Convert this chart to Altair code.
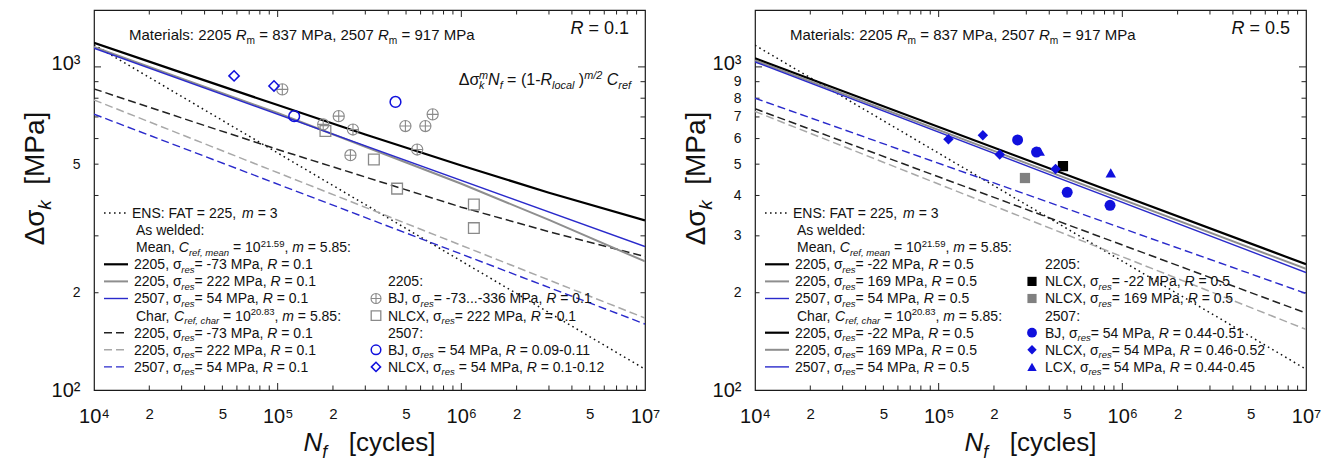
import altair as alt
import pandas as pd

FONT = "Liberation Sans"
W, H = 551, 380
INK = "#111111"
BLUE_LINE = "#2a2acb"
BLUE_MARK = "#1010dd"
GRAY_SOLID = "#8e8e8e"
GRAY_DASH = "#a8a8a8"
GRAY_MARK = "#8a8a8a"

# ---------------- ticks and tick labels ----------------
X_LABEL_VALUES = [1e4, 2e4, 5e4, 1e5, 2e5, 5e5, 1e6, 2e6, 5e6, 1e7]
X_MAJOR_TICKS = [1e5, 1e6]
X_MINOR_TICKS = [2e4, 3e4, 4e4, 5e4, 6e4, 7e4, 8e4, 9e4,
                 2e5, 3e5, 4e5, 5e5, 6e5, 7e5, 8e5, 9e5,
                 2e6, 3e6, 4e6, 5e6, 6e6, 7e6, 8e6, 9e6]
Y_LABELS_LEFT = [100, 200, 500, 1000]
Y_LABELS_RIGHT = [100, 200, 300, 400, 500, 600, 700, 800, 900, 1000]
Y_MAJOR_TICKS = [1000]
Y_MINOR_TICKS = [200, 300, 400, 500, 600, 700, 800, 900]

# ---------------- R = 0.1 panel: curves ----------------
N_ENDS = [1e4, 1e7]
R1_ENS = [1170, 116]
R1_MEAN_2205A_N = [1e4, 3e4, 1e5, 3e5, 1e6, 3e6, 1e7]
R1_MEAN_2205A_S = [1187, 960, 762, 618, 495, 408, 335]
R1_MEAN_2205B_N = [1e4, 1e5, 1e6, 3e6, 1e7]
R1_MEAN_2205B_S = [1153, 720, 435, 336, 250]
R1_MEAN_2507 = [1142, 278]
R1_CHAR_2205A_N = [1e4, 3e4, 1e5, 1e6, 3e6, 1e7]
R1_CHAR_2205A_S = [855, 695, 555, 368, 309, 259]
R1_CHAR_2205B = [790, 167]
R1_CHAR_2507 = [714, 160]

# ---------------- R = 0.1 panel: test data ----------------
R1_BJ2205_N = [1.06e5, 2.15e5, 1.77e5, 2.57e5, 2.49e5, 4.96e5, 6.37e5, 6.98e5, 5.75e5]
R1_BJ2205_S = [852, 704, 664, 640, 533, 656, 656, 713, 555]
R1_NLCX2205_N = [1.82e5, 3.34e5, 4.47e5, 1.17e6, 1.17e6]
R1_NLCX2205_S = [633, 517, 420, 375, 317]
R1_BJ2507_N = [1.23e5, 4.38e5]
R1_BJ2507_S = [704, 779]
R1_NLCX2507_N = [5.79e4, 9.55e4]
R1_NLCX2507_S = [938, 873]

# ---------------- R = 0.5 panel: curves ----------------
R5_ENS = [1167, 116]
R5_MEAN_2205A = [1064, 245]
R5_MEAN_2205B = [1047, 237]
R5_MEAN_2507 = [1036, 231]
R5_CHAR_2205A = [742, 173]
R5_CHAR_2205B = [728, 154]
R5_CHAR_2507 = [800, 199]

# ---------------- R = 0.5 panel: test data ----------------
R5_NLCX2205A_N = [4.75e5]
R5_NLCX2205A_S = [493]
R5_NLCX2205B_N = [2.95e5]
R5_NLCX2205B_S = [453]
R5_BJ2507_N = [2.69e5, 3.41e5, 5.01e5, 8.57e5]
R5_BJ2507_S = [594, 545, 409, 373]
R5_NLCX2507_N = [1.13e5, 1.74e5, 2.15e5, 4.33e5]
R5_NLCX2507_S = [597, 614, 536, 483]
R5_LCX2507_N = [3.55e5, 8.65e5]
R5_LCX2507_S = [548, 470]

# ---------------- styles ----------------
DASH = [8, 4]
LINE_STYLES = {
    "ens": dict(color=INK, strokeDash=[1.6, 3.4], strokeWidth=1.5),
    "mean_a": dict(color="#000000", strokeWidth=2.2),
    "mean_b": dict(color=GRAY_SOLID, strokeWidth=2.0),
    "mean_c": dict(color=BLUE_LINE, strokeWidth=1.4),
    "char_a": dict(color="#222222", strokeDash=DASH, strokeWidth=1.5),
    "char_b": dict(color=GRAY_DASH, strokeDash=DASH, strokeWidth=1.5),
    "char_c": dict(color=BLUE_LINE, strokeDash=DASH, strokeWidth=1.4),
}
CROSS_CIRCLE = "M -1 0 A 1 1 0 1 0 1 0 A 1 1 0 1 0 -1 0 Z M -1 0 L 1 0 M 0 -1 L 0 1"
MARKERS = {
    "bj2205": dict(shape=CROSS_CIRCLE, filled=False, color=GRAY_MARK, size=125, strokeWidth=1.1),
    "nlcx2205": dict(shape="square", filled=False, color=GRAY_MARK, size=115, strokeWidth=1.3),
    "bj2507": dict(shape="circle", filled=False, color=BLUE_MARK, size=115, strokeWidth=1.5),
    "nlcx2507": dict(shape="diamond", filled=False, color=BLUE_MARK, size=105, strokeWidth=1.5),
    "nlcx2205a_f": dict(shape="square", filled=True, color="#000000", size=105),
    "nlcx2205b_f": dict(shape="square", filled=True, color="#808080", size=105),
    "bj2507_f": dict(shape="circle", filled=True, color=BLUE_MARK, size=120),
    "nlcx2507_f": dict(shape="diamond", filled=True, color=BLUE_MARK, size=110),
    "lcx2507_f": dict(shape="triangle-up", filled=True, color=BLUE_MARK, size=110),
}

# ---------------- rich text helper (Arial / Liberation Sans advance widths) ----------------
AW = {' ': 278, '!': 278, '(': 333, ')': 333, ',': 278, '-': 333, '.': 278, '/': 278,
      ':': 278, '=': 584, '[': 278, ']': 278,
      'A': 667, 'B': 667, 'C': 722, 'D': 722, 'E': 667, 'F': 611, 'G': 778, 'H': 722,
      'I': 278, 'J': 500, 'K': 667, 'L': 556, 'M': 833, 'N': 722, 'O': 778, 'P': 667,
      'R': 722, 'S': 667, 'T': 611, 'U': 722, 'V': 667, 'W': 944, 'X': 667,
      'a': 556, 'b': 556, 'c': 500, 'd': 556, 'e': 556, 'f': 278, 'g': 556, 'h': 556,
      'i': 222, 'k': 500, 'l': 222, 'm': 833, 'n': 556, 'o': 556, 'p': 556, 'r': 333,
      's': 500, 't': 278, 'u': 556, 'w': 722, 'x': 500, 'y': 500,
      'σ': 600, 'Δ': 668}
for _d in "0123456789":
    AW[_d] = 556


def text_width(s, size):
    return sum(AW.get(ch, 556) for ch in s) * size / 1000.0


def parse_markup(m):
    segs = []
    st = {"it": False, "kind": "n", "buf": ""}

    def flush():
        if st["buf"]:
            segs.append((st["buf"], st["it"], st["kind"]))
            st["buf"] = ""

    i = 0
    while i < len(m):
        c = m[i]
        if c == "*":
            flush(); st["it"] = not st["it"]; i += 1
        elif c in "_^" and m[i + 1:i + 2] == "{":
            flush(); st["kind"] = "sub" if c == "_" else "sup"; i += 2
        elif c == "^" and m[i + 1:i + 3] == "<{":
            flush(); st["kind"] = "supb"; i += 3
        elif c == "}" and st["kind"] != "n":
            flush(); st["kind"] = "n"; i += 1
        else:
            st["buf"] += c; i += 1
    flush()
    return segs


def rich(markup, x, y, size, anchor="left", vertical=False):
    pieces = []
    cur = 0.0
    prev_start = 0.0
    for text, it, kind in parse_markup(markup):
        fs = size * 0.68 if kind != "n" else size
        start = prev_start if kind == "supb" else cur
        lead = len(text) - len(text.lstrip(" "))
        body = text.strip(" ")
        cur = max(cur, start + text_width(text, fs))
        if kind == "sub":
            off = 0.25 * size
        elif kind in ("sup", "supb"):
            off = -0.40 * size
        else:
            off = 0.0
        if body:
            pieces.append((body, it, fs, start + text_width(" " * lead, fs), off))
        prev_start = start
    total = cur
    shift = {"left": 0.0, "center": -total / 2.0, "right": -total}[anchor]
    rows = []
    for body, it, fs, start, off in pieces:
        if vertical:
            rows.append(dict(px=x + off, py=y - (start + shift), text=body, fs=fs, it=bool(it), vert=True))
        else:
            rows.append(dict(px=x + start + shift, py=y + off, text=body, fs=fs, it=bool(it), vert=False))
    return rows


# ---------------- scales / axes ----------------
XS = alt.Scale(type="log", domain=[1e4, 1e7], nice=False)
YS = alt.Scale(type="log", domain=[100, 1500], nice=False)
X_EXPR = ("datum.value == 10000 ? '10⁴' : datum.value == 100000 ? '10⁵' : "
          "datum.value == 1000000 ? '10⁶' : datum.value == 10000000 ? '10⁷' : "
          "format(datum.value / pow(10, floor(log(datum.value) / LN10 + 0.0001)), 'd')")
Y_EXPR = "datum.value == 100 ? '10²' : datum.value == 1000 ? '10³' : format(datum.value / 100, 'd')"
MAJOR_TEST = "abs(log(datum.value) / LN10 - round(log(datum.value) / LN10)) < 0.001"
X_LABEL_FS = {"condition": {"test": MAJOR_TEST, "value": 20}, "value": 15}
Y_LABEL_FS = {"condition": {"test": MAJOR_TEST, "value": 20}, "value": 14}
Y_LABEL_OFF = {"condition": {"test": "datum.value == 1000", "value": -3}, "value": 0}


def X(field):
    return alt.X(f"{field}:Q", scale=XS, axis=alt.Axis(
        values=X_LABEL_VALUES, labelExpr=X_EXPR, labelFontSize=X_LABEL_FS, labelFont=FONT,
        labelColor=INK, ticks=False, domain=False, grid=False, labelPadding=16,
        labelFlush=False, labelOverlap=False, title=None))


def Y(field, labels):
    return alt.Y(f"{field}:Q", scale=YS, axis=alt.Axis(
        values=labels, labelExpr=Y_EXPR, labelFontSize=Y_LABEL_FS, labelOffset=Y_LABEL_OFF,
        labelFont=FONT, labelColor=INK, ticks=False, domain=False, grid=False,
        labelPadding=14, labelFlush=False, labelOverlap=False, title=None))


def tick_layers(ylabels):
    out = []
    for vals, ln in ((X_MAJOR_TICKS, 7), (X_MINOR_TICKS, 4.5)):
        df = pd.DataFrame({"v": vals})
        out.append(alt.Chart(df).mark_rule(color="#222222", strokeWidth=1).encode(
            x=X("v"), y=alt.value(H), y2=alt.value(H - ln)))
        out.append(alt.Chart(df).mark_rule(color="#222222", strokeWidth=1).encode(
            x=X("v"), y=alt.value(0), y2=alt.value(ln)))
    for vals, ln in ((Y_MAJOR_TICKS, 7), (Y_MINOR_TICKS, 4.5)):
        df = pd.DataFrame({"v": vals})
        out.append(alt.Chart(df).mark_rule(color="#222222", strokeWidth=1).encode(
            y=Y("v", ylabels), x=alt.value(0), x2=alt.value(ln)))
        out.append(alt.Chart(df).mark_rule(color="#222222", strokeWidth=1).encode(
            y=Y("v", ylabels), x=alt.value(W - ln), x2=alt.value(W)))
    return out


def line_layer(N, S, style, ylabels):
    df = pd.DataFrame({"N": N, "S": S})
    return alt.Chart(df).mark_line(clip=True, **LINE_STYLES[style]).encode(
        x=X("N"), y=Y("S", ylabels))


def point_layer(N, S, mk, ylabels):
    df = pd.DataFrame({"N": N, "S": S})
    return alt.Chart(df).mark_point(opacity=1, **MARKERS[mk]).encode(
        x=X("N"), y=Y("S", ylabels))


def legend_sample(x1, x2, y, style):
    df = pd.DataFrame({"x1": [x1], "x2": [x2], "y": [y]})
    return alt.Chart(df).mark_rule(**LINE_STYLES[style]).encode(
        x=alt.X("x1:Q", scale=None, axis=None), x2="x2:Q",
        y=alt.Y("y:Q", scale=None, axis=None))


def legend_marker(x, y, mk):
    df = pd.DataFrame({"x": [x], "y": [y]})
    props = dict(MARKERS[mk])
    props["size"] = props["size"] * 0.8
    return alt.Chart(df).mark_point(opacity=1, **props).encode(
        x=alt.X("x:Q", scale=None, axis=None), y=alt.Y("y:Q", scale=None, axis=None))


def text_layers(rows):
    df = pd.DataFrame(rows)
    out = []
    for (it, vert), g in df.groupby(["it", "vert"]):
        out.append(alt.Chart(g[["px", "py", "text", "fs"]]).mark_text(
            align="left", baseline="alphabetic", font=FONT,
            fontStyle="italic" if it else "normal", angle=270 if vert else 0, color=INK
        ).encode(x=alt.X("px:Q", scale=None, axis=None), y=alt.Y("py:Q", scale=None, axis=None),
                 size=alt.Size("fs:Q", scale=None, legend=None), text="text:N"))
    return out


# ---------------- legends ----------------
ROW0, ROWDY, LEGFS = 203.0, 17.1, 14
SAMPLE_X1, SAMPLE_X2 = 10, 34


def row_y(i):
    return ROW0 + ROWDY * i


LEFT_COL_R1 = [
    (0, "ens", "ENS: FAT = 225, *m* = 3"),
    (1, None, "As welded:"),
    (2, None, "Mean, *C*_{*ref, mean*} = 10^{21.59}, *m* = 5.85:"),
    (3, "mean_a", "2205, σ_{*res*}= -73 MPa, *R* = 0.1"),
    (4, "mean_b", "2205, σ_{*res*}= 222 MPa, *R* = 0.1"),
    (5, "mean_c", "2507, σ_{*res*}= 54 MPa, *R* = 0.1"),
    (6, None, "Char, *C*_{*ref, char*} = 10^{20.83}, *m* = 5.85:"),
    (7, "char_a", "2205, σ_{*res*}= -73 MPa, *R* = 0.1"),
    (8, "char_b", "2205, σ_{*res*}= 222 MPa, *R* = 0.1"),
    (9, "char_c", "2507, σ_{*res*}= 54 MPa, *R* = 0.1"),
]
RIGHT_COL_R1 = [
    (4, None, "2205:"),
    (5, "bj2205", "BJ, σ_{*res*}= -73...-336 MPa, *R* = 0.1"),
    (6, "nlcx2205", "NLCX, σ_{*res*}= 222 MPa, *R* = 0.1"),
    (7, None, "2507:"),
    (8, "bj2507", "BJ, σ_{*res*} = 54 MPa, *R* = 0.09-0.11"),
    (9, "nlcx2507", "NLCX, σ_{*res*} = 54 MPa, *R* = 0.1-0.12"),
]
LEFT_COL_R5 = [
    (0, "ens", "ENS: FAT = 225, *m* = 3"),
    (1, None, "As welded:"),
    (2, None, "Mean, *C*_{*ref, mean*} = 10^{21.59}, *m* = 5.85:"),
    (3, "mean_a", "2205, σ_{*res*}= -22 MPa, *R* = 0.5"),
    (4, "mean_b", "2205, σ_{*res*}= 169 MPa, *R* = 0.5"),
    (5, "mean_c", "2507, σ_{*res*}= 54 MPa, *R* = 0.5"),
    (6, None, "Char, *C*_{*ref, char*} = 10^{20.83}, *m* = 5.85:"),
    (7, "mean_a", "2205, σ_{*res*}= -22 MPa, *R* = 0.5"),
    (8, "mean_b", "2205, σ_{*res*}= 169 MPa, *R* = 0.5"),
    (9, "mean_c", "2507, σ_{*res*}= 54 MPa, *R* = 0.5"),
]
RIGHT_COL_R5 = [
    (3, None, "2205:"),
    (4, "nlcx2205a_f", "NLCX, σ_{*res*}= -22 MPa, *R* = 0.5"),
    (5, "nlcx2205b_f", "NLCX, σ_{*res*}= 169 MPa, *R* = 0.5"),
    (6, None, "2507:"),
    (7, "bj2507_f", "BJ, σ_{*res*}= 54 MPa, *R* = 0.44-0.51"),
    (8, "nlcx2507_f", "NLCX, σ_{*res*}= 54 MPa, *R* = 0.46-0.52"),
    (9, "lcx2507_f", "LCX, σ_{*res*}= 54 MPa, *R* = 0.44-0.45"),
]


def legend_parts(left_col, right_col, mk_x, txt_x):
    layers, rows = [], []
    for i, style, label in left_col:
        y = row_y(i)
        if style == "ens":
            tx = 38
        elif style is None:
            tx = 42
        else:
            tx = 40
        if style is not None:
            layers.append(legend_sample(SAMPLE_X1, SAMPLE_X2, y, style))
        rows += rich(label, tx, y + 0.35 * LEGFS, LEGFS)
    for i, mk, label in right_col:
        y = row_y(i)
        if mk is not None:
            layers.append(legend_marker(mk_x, y, mk))
        rows += rich(label, txt_x, y + 0.35 * LEGFS, LEGFS)
    return layers, rows


def common_text(rlabel):
    rows = []
    rows += rich("Materials: 2205 *R*_{m} = 837 MPa, 2507 *R*_{m} = 917 MPa", 35, 30, 15)
    rows += rich("*R* = " + rlabel, 535, 23.5, 18, anchor="right")
    rows += rich("*N*_{*f*}   [cycles]", W / 2, 441, 26, anchor="center")
    rows += rich("Δσ_{*k*}  [MPa]", -50, 168.5, 28, anchor="center", vertical=True)
    return rows


# ---------------- left panel (R = 0.1) ----------------
YL = Y_LABELS_LEFT
left_lines = [
    line_layer(N_ENDS, R1_ENS, "ens", YL),
    line_layer(N_ENDS, R1_CHAR_2205B, "char_b", YL),
    line_layer(N_ENDS, R1_CHAR_2507, "char_c", YL),
    line_layer(R1_CHAR_2205A_N, R1_CHAR_2205A_S, "char_a", YL),
    line_layer(R1_MEAN_2205B_N, R1_MEAN_2205B_S, "mean_b", YL),
    line_layer(N_ENDS, R1_MEAN_2507, "mean_c", YL),
    line_layer(R1_MEAN_2205A_N, R1_MEAN_2205A_S, "mean_a", YL),
]
left_pts = [
    point_layer(R1_BJ2205_N, R1_BJ2205_S, "bj2205", YL),
    point_layer(R1_NLCX2205_N, R1_NLCX2205_S, "nlcx2205", YL),
    point_layer(R1_BJ2507_N, R1_BJ2507_S, "bj2507", YL),
    point_layer(R1_NLCX2507_N, R1_NLCX2507_S, "nlcx2507", YL),
]
l_leg_layers, l_leg_rows = legend_parts(LEFT_COL_R1, RIGHT_COL_R1, 282, 294)
l_rows = common_text("0.1") + l_leg_rows
l_rows += rich("Δσ_{*k*}^<{*m*}*N*_{*f*} = (1-*R*_{*local*} )^{*m/2*} *C*_{*ref*}", 537, 75, 16, anchor="right")
left = alt.layer(*(tick_layers(YL) + left_lines + left_pts + l_leg_layers + text_layers(l_rows))).properties(
    width=W, height=H)

# ---------------- right panel (R = 0.5) ----------------
YR = Y_LABELS_RIGHT
right_lines = [
    line_layer(N_ENDS, R5_ENS, "ens", YR),
    line_layer(N_ENDS, R5_CHAR_2205B, "char_b", YR),
    line_layer(N_ENDS, R5_CHAR_2205A, "char_a", YR),
    line_layer(N_ENDS, R5_CHAR_2507, "char_c", YR),
    line_layer(N_ENDS, R5_MEAN_2205B, "mean_b", YR),
    line_layer(N_ENDS, R5_MEAN_2507, "mean_c", YR),
    line_layer(N_ENDS, R5_MEAN_2205A, "mean_a", YR),
]
right_pts = [
    point_layer(R5_NLCX2205A_N, R5_NLCX2205A_S, "nlcx2205a_f", YR),
    point_layer(R5_NLCX2205B_N, R5_NLCX2205B_S, "nlcx2205b_f", YR),
    point_layer(R5_BJ2507_N, R5_BJ2507_S, "bj2507_f", YR),
    point_layer(R5_NLCX2507_N, R5_NLCX2507_S, "nlcx2507_f", YR),
    point_layer(R5_LCX2507_N, R5_LCX2507_S, "lcx2507_f", YR),
]
r_leg_layers, r_leg_rows = legend_parts(LEFT_COL_R5, RIGHT_COL_R5, 277, 290)
r_rows = common_text("0.5") + r_leg_rows
right = alt.layer(*(tick_layers(YR) + right_lines + right_pts + r_leg_layers + text_layers(r_rows))).properties(
    width=W, height=H)

chart = alt.hconcat(left, right, spacing=110, bounds="flush").properties(
    padding={"left": 13, "top": 0, "right": 0, "bottom": 0},
    background="white",
).configure_view(stroke="#1a1a1a", strokeWidth=1.2)

chart.save("out.html", embed_options={"renderer": "svg", "actions": False})
